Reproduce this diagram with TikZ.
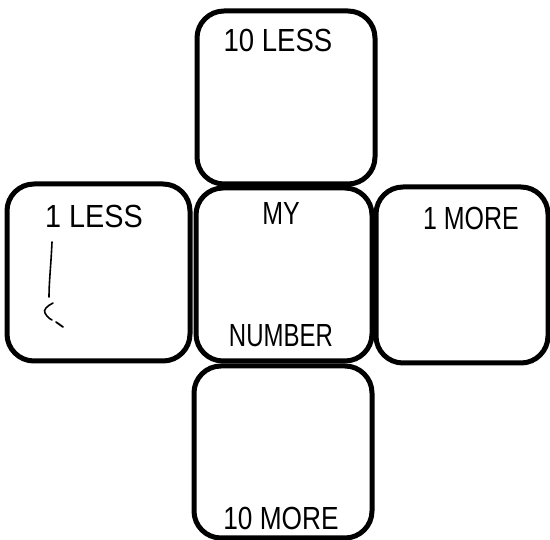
\documentclass[tikz,border=0pt]{standalone}
\usepackage{fontspec}
\setmainfont{Liberation Sans}
\usepackage{graphicx}
\begin{document}
\begin{tikzpicture}[x=1pt,y=-1pt,
  box/.style={draw=black, line width=5pt, rounded corners=27pt, inner sep=0pt, outer sep=0pt},
  lbl/.style={anchor=base, inner sep=0pt, font=\fontsize{32}{32}\selectfont}]
\useasboundingbox (0,0) rectangle (550,540);
\fill[white] (0,0) rectangle (550,540);
% boxes
\node[box, minimum width=178pt, minimum height=173pt] (top) at (286,97.5) {};
\node[box, minimum width=176pt, minimum height=173pt] (mid) at (284,274.5) {};
\node[box, minimum width=183pt, minimum height=177pt] (left) at (98.5,272.5) {};
\node[box, minimum width=172pt, minimum height=176pt] (right) at (462,275) {};
\node[box, minimum width=178pt, minimum height=172pt] (bot) at (283,452) {};
% labels
\node[lbl] (tl) at (278,52) {\scalebox{0.86}[1]{10 LESS}};
\node[lbl] (ll) at (94,228) {\scalebox{0.9}[1]{1 LESS}};
\node[lbl] (ml1) at (281,225) {\scalebox{0.78}[1]{MY}};
\node[lbl] (ml2) at (281,347) {\scalebox{0.75}[1]{NUMBER}};
\node[lbl] (rl) at (471,230) {\scalebox{0.78}[1]{1 MORE}};
\node[lbl] (bl) at (281,530) {\scalebox{0.82}[1]{10 MORE}};
% pencil mark
\draw[line width=1.6pt, line cap=round] (52,242) .. controls (51,265) and (49,282) .. (49,297);
\draw[line width=1.6pt, line cap=round] (53,303) .. controls (47,306) and (43,310) .. (45,313) .. controls (47,317) and (50,319) .. (52,320);
\draw[line width=1.8pt, line cap=round] (56,322) -- (63,327);
\end{tikzpicture}
\end{document}
